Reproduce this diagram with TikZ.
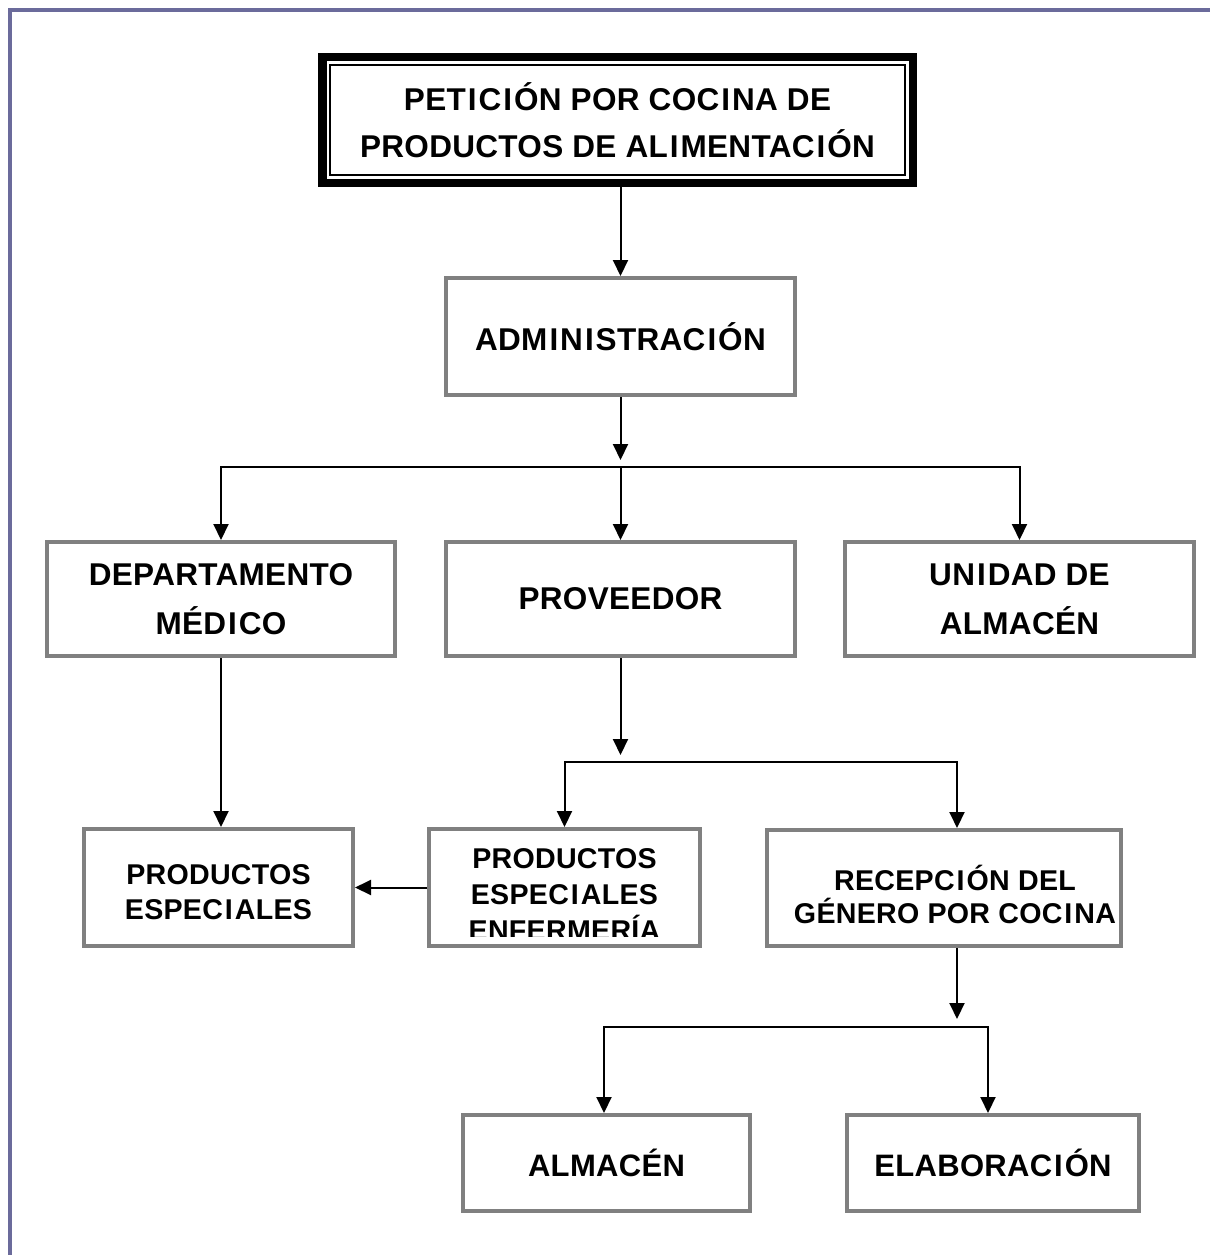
\documentclass[tikz,border=0pt]{standalone}
\usepackage{fontspec}
\setmainfont{Liberation Sans}
\newfontfamily\boxfont[LetterSpace=1]{Liberation Sans}
\newcommand{\Iw}{\kern2pt I\kern2pt}
\usetikzlibrary{arrows.meta,calc}
\definecolor{pageblue}{RGB}{107,107,155}
\definecolor{boxgray}{RGB}{128,128,128}
\begin{document}
\begin{tikzpicture}[x=1pt,y=-1pt,
  box/.style={draw=boxgray, line width=4pt, inner sep=0pt, align=center, font=\boxfont\bfseries\fontsize{31.5}{49}\selectfont},
  lbl/.style={inner sep=0pt, align=center},
  smallfont/.style={font=\boxfont\bfseries\fontsize{28.6}{35}\selectfont},
  conn/.style={line width=2pt, draw=black},
  arr/.style={conn, -{Triangle[width=15pt,length=16pt]}}
]
\useasboundingbox (0,0) rectangle (1210,1255);
\draw[pageblue, line width=4pt] (10,1255) -- (10,10) -- (1210,10);

% top box (thick-thin frame)
\node[draw=black, line width=8.5pt, minimum width=590.5pt, minimum height=125.5pt, inner sep=0pt, align=center,
      font=\boxfont\bfseries\fontsize{31.5}{47}\selectfont] (top) at (617.5,120)
      {PET\Iw C\Iw ÓN POR COC\Iw NA DE\\PRODUCTOS DE AL\Iw MENTAC\Iw ÓN};
\draw[line width=2.5pt] ($(top.north west)+(12,12)$) rectangle ($(top.south east)+(-12,-12)$);

\node[box, minimum width=349pt, minimum height=117pt] (admin) at (620.5,336.5) {ADM\Iw N\Iw STRAC\Iw ÓN};
\node[box, minimum width=348pt, minimum height=114pt] (dept) at (221,599) {DEPARTAMENTO\\MÉD\Iw CO};
\node[box, minimum width=349pt, minimum height=114pt] (prov) at (620.5,599) {PROVEEDOR};
\node[box, minimum width=349pt, minimum height=114pt] (unid) at (1019.5,599) {UN\Iw DAD DE\\ALMACÉN};

\node[box, minimum width=269pt, minimum height=117pt] (pe) at (218.5,887.5) {};
\node[lbl, smallfont] (petext) at (218.5,892.5) {PRODUCTOS\\ESPEC\Iw ALES};

\node[box, minimum width=271pt, minimum height=117pt] (pee) at (564.5,887.5) {};
\begin{scope}
  \clip (429,829) rectangle (700,936);
  \node[lbl, font=\boxfont\bfseries\fontsize{28.6}{36}\selectfont] (peetext) at (564.5,895) {PRODUCTOS\\ESPEC\Iw ALES\\ENFERMERÍA};
\end{scope}

\node[box, minimum width=354pt, minimum height=116pt] (rec) at (944,888) {};
\node[lbl, font=\boxfont\bfseries\fontsize{28.6}{33}\selectfont] (rectext) at (955,894) {RECEPC\Iw ÓN DEL\\GÉNERO POR COC\Iw NA};

\node[box, font=\boxfont\bfseries\fontsize{31}{40}\selectfont, minimum width=287pt, minimum height=96pt] (alm) at (606.5,1163) {ALMACÉN};
\node[box, font=\boxfont\bfseries\fontsize{31}{40}\selectfont, minimum width=292pt, minimum height=96pt] (ela) at (993,1163) {ELABORAC\Iw ÓN};

\coordinate (j1) at (620,467);
\coordinate (j2) at (957,762);
\coordinate (j3) at (604,1027);
\coordinate (j3r) at (988,1027);

\draw[arr] (admin.north |- top.south) -- (admin.north);
\draw[arr] (admin.south) -- ($(admin.south |- j1)+(0,-7)$);
\draw[conn, line cap=rect] (dept.north |- j1) -- (unid.north |- j1);
\draw[arr] (dept.north |- j1) -- (dept.north);
\draw[arr] (prov.north |- j1) -- (prov.north);
\draw[arr] (unid.north |- j1) -- (unid.north);

\draw[arr] (dept.south) -- (dept.south |- pe.north);
\draw[arr] (prov.south) -- ($(prov.south |- j2)+(0,-7)$);
\draw[conn, line cap=rect] (pee.north |- j2) -- (j2);
\draw[arr] (pee.north |- j2) -- (pee.north);
\draw[arr] (j2) -- (j2 |- rec.north);
\draw[arr] (pee.west) -- (pe.east);

\draw[arr] (j2 |- rec.south) -- ($(j2 |- j3)+(0,-8)$);
\draw[conn, line cap=rect] (j3) -- (j3r);
\draw[arr] (j3) -- (j3 |- alm.north);
\draw[arr] (j3r) -- (j3r |- ela.north);
\end{tikzpicture}
\end{document}
